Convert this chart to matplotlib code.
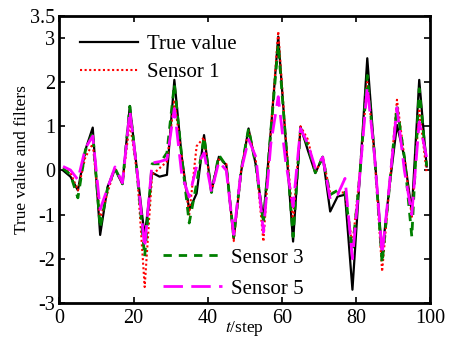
import numpy as np
import matplotlib
matplotlib.use("Agg")
import matplotlib.pyplot as plt

plt.rcParams['font.family'] = ['Liberation Serif', 'DejaVu Serif']
plt.rcParams['mathtext.fontset'] = 'stix'

steps = np.arange(1, 101, 2)

true_value = [0.00, -0.14, -0.45, 0.46, 0.97, -1.46, -0.37, 0.03, -0.31, 1.46,
              -0.05, -1.50, -0.05, -0.14, -0.10, 2.05, 0.30, -0.90, -0.52, 0.80,
              -0.48, 0.31, 0.12, -1.54, -0.03, 0.95, 0.10, -1.12, 0.90, 3.03,
              0.70, -1.61, 0.99, 0.45, -0.06, 0.31, -0.93, -0.59, -0.55, -2.70,
              -0.10, 2.54, 0.30, -1.88, -0.35, 1.03, 0.30, -0.93, 2.05, 0.09]

sensor1 = [0.05, -0.05, -0.45, 0.30, 0.60, -1.10, -0.50, 0.05, -0.30, 1.10,
           -0.10, -2.64, -0.10, 0.05, 0.20, 1.60, 0.30, -1.00, 0.55, 0.75,
           -0.50, 0.25, 0.15, -1.60, 0.00, 0.90, 0.20, -1.61, 0.90, 3.15,
           0.75, -1.15, 1.00, 0.70, -0.05, 0.30, -0.50, -0.50, -0.50, -1.70,
           -0.05, 2.00, 0.30, -2.29, -0.35, 1.60, 0.30, -1.05, 1.40, -0.05]

sensor3 = [0.05, -0.10, -0.62, 0.45, 0.85, -1.30, -0.40, 0.05, -0.30, 1.45,
           -0.10, -1.95, 0.15, 0.15, 0.40, 1.95, 0.30, -1.19, -0.30, 0.75,
           -0.50, 0.35, 0.10, -1.50, 0.00, 0.95, 0.10, -1.20, 0.90, 2.85,
           0.70, -1.50, 0.95, 0.55, -0.05, 0.30, -0.55, -0.45, -0.50, -1.80,
           -0.10, 2.15, 0.30, -2.10, -0.35, 1.45, 0.30, -1.50, 1.85, 0.10]

sensor5 = [0.09, 0.01, -0.21, 0.50, 0.78, -0.88, -0.40, 0.08, -0.28, 1.35,
           -0.05, -1.75, 0.17, 0.20, 0.25, 1.40, -0.10, -0.60, 0.10, 0.40,
           -0.48, 0.20, 0.00, -1.45, 0.00, 0.70, 0.30, -1.40, 0.60, 1.67,
           0.20, -0.82, 0.95, 0.60, 0.05, 0.30, -0.65, -0.55, -0.18, -2.00,
           -0.10, 1.90, 0.30, -1.90, -0.30, 1.42, 0.00, -1.00, 1.10, 0.30]

x_ticks = [0, 20, 40, 60, 80, 100]
y_ticks = [-3, -2, -1, 0, 1, 2, 3, 3.5]
y_tick_labels = ['-3', '-2', '-1', '0', '1', '2', '3', '3.5']

fig = plt.figure(figsize=(4.53, 3.37), dpi=100)
ax = fig.add_axes([0.131, 0.101, 0.819, 0.852])

l_true, = ax.plot(steps, true_value, color='black', lw=1.6, label='True value')
l_s1, = ax.plot(steps, sensor1, color='red', lw=1.5, linestyle=(0, (1, 1.2)), label='Sensor 1')
l_s3, = ax.plot(steps, sensor3, color='#008000', lw=2.0, linestyle=(0, (3, 2.5)), label='Sensor 3')
l_s5, = ax.plot(steps, sensor5, color='magenta', lw=2.0, linestyle=(0, (7, 3)), label='Sensor 5')

ax.set_xlim(0, 100)
ax.set_ylim(-3, 3.5)
ax.set_xticks(x_ticks)
ax.set_yticks(y_ticks)
ax.set_yticklabels(y_tick_labels)
ax.tick_params(direction='in', top=True, right=True, labelsize=14.5, length=4, width=1.2)
ax.tick_params(axis='x', pad=4)
ax.tick_params(axis='y', pad=3)
for sp in ax.spines.values():
    sp.set_linewidth(2)

ax.set_xlabel('$t$/step', fontsize=12.5, labelpad=-6)
ax.set_ylabel('True value and filters', fontsize=12.5, labelpad=0)

leg1 = ax.legend(handles=[l_true, l_s1], loc='upper left', bbox_to_anchor=(0.055, 0.935),
                 frameon=False, fontsize=15, handlelength=2.8, handletextpad=0.45,
                 labelspacing=0.42, borderaxespad=0.0, borderpad=0.0)
ax.add_artist(leg1)
ax.legend(handles=[l_s3, l_s5], loc='lower left', bbox_to_anchor=(0.28, 0.015),
          frameon=False, fontsize=15, handlelength=2.8, handletextpad=0.45,
          labelspacing=0.55, borderaxespad=0.0, borderpad=0.0)

fig.savefig('out.png', dpi=100)
